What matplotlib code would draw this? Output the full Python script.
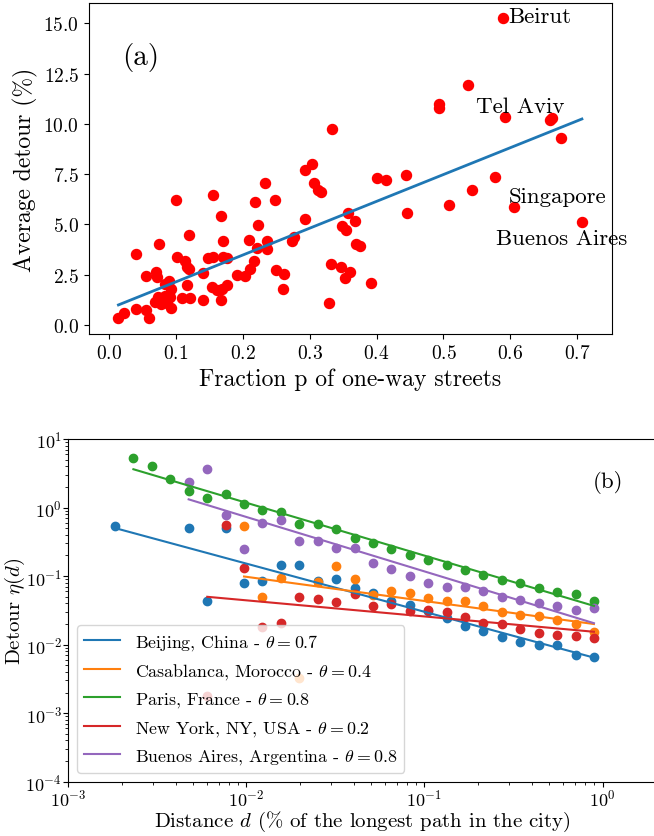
import matplotlib
matplotlib.use("Agg")
import matplotlib.pyplot as plt
import numpy as np

plt.rcParams["font.family"] = "serif"
plt.rcParams["font.serif"] = ["cmr10", "DejaVu Serif"]
plt.rcParams["mathtext.fontset"] = "cm"
plt.rcParams["axes.formatter.use_mathtext"] = True

# --- panel (a): average detour vs fraction of one-way streets ---
frac_oneway = [
    0.014, 0.023, 0.040, 0.055, 0.060, 0.041, 0.055, 0.070, 0.071, 0.075,
    0.069, 0.073, 0.080, 0.084, 0.086, 0.084, 0.090, 0.092, 0.091, 0.093, 0.078,
    0.100, 0.101, 0.114, 0.116, 0.120, 0.117, 0.109, 0.121, 0.120,
    0.141, 0.141, 0.148, 0.156, 0.155, 0.168, 0.170, 0.170, 0.177,
    0.154, 0.161, 0.169, 0.177, 0.167,
    0.191, 0.204, 0.210, 0.217, 0.221, 0.209, 0.218, 0.222, 0.233, 0.236,
    0.236, 0.248, 0.250, 0.261, 0.260, 0.273, 0.277, 0.293, 0.293, 0.303,
    0.306, 0.312, 0.317, 0.333, 0.329, 0.332,
    0.347, 0.360, 0.353, 0.392, 0.349, 0.354, 0.357, 0.367, 0.369, 0.375,
    0.401, 0.414, 0.444, 0.446,
    0.589, 0.537, 0.493, 0.493, 0.592, 0.659, 0.662, 0.676, 0.577, 0.542,
    0.509, 0.606, 0.707,
]
avg_detour = [
    0.35, 0.60, 0.78, 0.72, 0.33, 3.53, 2.43, 2.62, 2.40, 4.03,
    1.15, 1.40, 1.22, 1.45, 1.10, 2.04, 2.20, 1.80, 1.38, 0.86, 1.05,
    6.23, 3.37, 3.20, 2.90, 2.80, 1.97, 1.36, 1.36, 4.48,
    1.25, 2.60, 3.32, 3.37, 6.47, 5.44, 4.19, 3.37, 3.35,
    1.90, 1.72, 1.79, 1.99, 1.24,
    2.47, 2.45, 2.80, 3.20, 3.85, 4.21, 6.14, 4.98, 7.06, 4.19,
    3.78, 6.22, 2.75, 2.56, 1.79, 4.17, 4.36, 5.27, 7.71, 8.01,
    7.05, 6.70, 6.62, 9.75, 1.08, 3.03,
    2.90, 2.62, 2.34, 2.08, 4.91, 4.73, 5.57, 5.17, 4.03, 3.92,
    7.31, 7.21, 7.46, 5.57,
    15.27, 11.94, 10.99, 10.80, 10.33, 10.21, 10.28, 9.30, 7.35, 6.73,
    5.99, 5.86, 5.14,
]
# linear fit: detour = slope * p + intercept
fit_slope_a = 13.35
fit_intercept_a = 0.81

city_names = ["Beirut", "Tel Aviv", "Singapore", "Buenos Aires"]
city_label_x = [0.597, 0.549, 0.597, 0.579]
city_label_y = [15.07, 10.58, 6.13, 4.03]

# --- panel (b): detour vs distance, log-log ---
d_bins = [
    0.00183, 0.00232, 0.00295, 0.00374, 0.00474, 0.00603, 0.00764, 0.00970,
    0.0123, 0.0156, 0.0198, 0.0251, 0.0319, 0.0405, 0.0513, 0.0652, 0.0826,
    0.105, 0.133, 0.169, 0.214, 0.272, 0.345, 0.438, 0.556, 0.705, 0.894,
]
nan = np.nan
eta_beijing = [
    0.53, nan, nan, nan, 0.50, 0.044, 0.50, 0.079, 0.085, 0.146, 0.143, 0.085,
    0.090, 0.067, 0.057, 0.044, 0.038, 0.031, 0.0245, 0.0188, 0.0156, 0.0131,
    0.0108, 0.0098, 0.0098, 0.0071, 0.0066,
]
eta_casablanca = [
    nan, nan, nan, nan, nan, nan, nan, 0.54, 0.050, 0.093, 0.0033, 0.082,
    0.138, 0.090, 0.053, 0.060, 0.056, 0.048, 0.044, 0.043, 0.037, 0.030,
    0.027, 0.026, 0.023, 0.0197, 0.0155,
]
eta_paris = [
    nan, 5.2, 4.1, 2.65, 1.73, 1.37, 1.55, 1.14, 0.91, 0.87, 0.57, 0.57,
    0.48, 0.356, 0.30, 0.247, 0.206, 0.17, 0.146, 0.122, 0.104, 0.089,
    0.079, 0.067, 0.059, 0.055, 0.043,
]
eta_newyork = [
    nan, nan, nan, nan, nan, 0.0018, 0.55, 0.132, 0.018, 0.021, 0.049, 0.046,
    0.042, 0.055, 0.036, 0.039, 0.031, 0.032, 0.030, 0.0254, 0.0206, 0.0199,
    0.0168, 0.015, 0.0138, 0.0133, 0.0126,
]
eta_buenosaires = [
    nan, nan, nan, nan, 2.39, 3.65, 0.79, 0.25, 0.60, 0.65, 0.32, 0.32,
    0.26, 0.26, 0.154, 0.129, 0.10, 0.078, 0.070, 0.070, 0.060, 0.049,
    0.045, 0.040, 0.036, 0.032, 0.034,
]
series_names = [
    "Beijing, China", "Casablanca, Morocco", "Paris, France",
    "New York, NY, USA", "Buenos Aires, Argentina",
]
series_eta = [eta_beijing, eta_casablanca, eta_paris, eta_newyork, eta_buenosaires]
fit_theta = [0.703, 0.353, 0.771, 0.235, 0.794]
fit_amp = [0.00597, 0.0192, 0.0337, 0.0150, 0.0188]
theta_label = [0.7, 0.4, 0.8, 0.2, 0.8]

W, H = 654, 837
fig = plt.figure(figsize=(W / 100, H / 100), dpi=100)

# panel (a)
ax1 = fig.add_axes([89 / W, 1 - 335 / H, (612 - 89) / W, (335 - 4) / H])
p = np.array(frac_oneway)
v = np.array(avg_detour)
ax1.scatter(p, v, color="red", s=52, zorder=2)
p_line = np.array([p.min(), p.max()])
ax1.plot(p_line, fit_slope_a * p_line + fit_intercept_a, color="C0", lw=2, zorder=3)
for name, tx, ty in zip(city_names, city_label_x, city_label_y):
    ax1.text(tx, ty, name, fontsize=16.5)
ax1.text(0.019, 13.0, "(a)", fontsize=21)
ax1.set_xlim(-0.030, 0.752)
ax1.set_ylim(-0.45, 16.02)
ax1.set_xticks(np.arange(0, 0.71, 0.1))
ax1.set_yticks(np.arange(0, 15.1, 2.5))
ax1.tick_params(labelsize=14)
ax1.set_xlabel("Fraction p of one-way streets", fontsize=17)
ax1.set_ylabel("Average detour (%)", fontsize=17)

# panel (b)
ax2 = fig.add_axes([68.3 / W, 1 - 782.7 / H, (656.2 - 68.3) / W, (782.7 - 440) / H])
d_all = np.array(d_bins)
for i, (name, eta) in enumerate(zip(series_names, series_eta)):
    eta = np.array(eta)
    ok = ~np.isnan(eta)
    d = d_all[ok]
    ax2.scatter(d, eta[ok], color=f"C{i}", s=36)
    ax2.plot(d, fit_amp[i] * d ** (-fit_theta[i]), color=f"C{i}", lw=1.5,
             label=f"{name} - $\\theta = {theta_label[i]}$")
ax2.set_xscale("log")
ax2.set_yscale("log")
ax2.set_xlim(1e-3, 2.0)
ax2.set_ylim(1e-4, 10)
ax2.text(0.885, 2.0, "(b)", fontsize=16.5)
ax2.tick_params(which="both", labelsize=13, pad=1)
ax2.set_xlabel("Distance $d$ (% of the longest path in the city)", fontsize=15,
               labelpad=0)
ax2.set_ylabel("Detour $\\eta(d)$", fontsize=15, labelpad=-1)
ax2.legend(loc="lower left", fontsize=12.9)

fig.savefig("out.png", dpi=100)
